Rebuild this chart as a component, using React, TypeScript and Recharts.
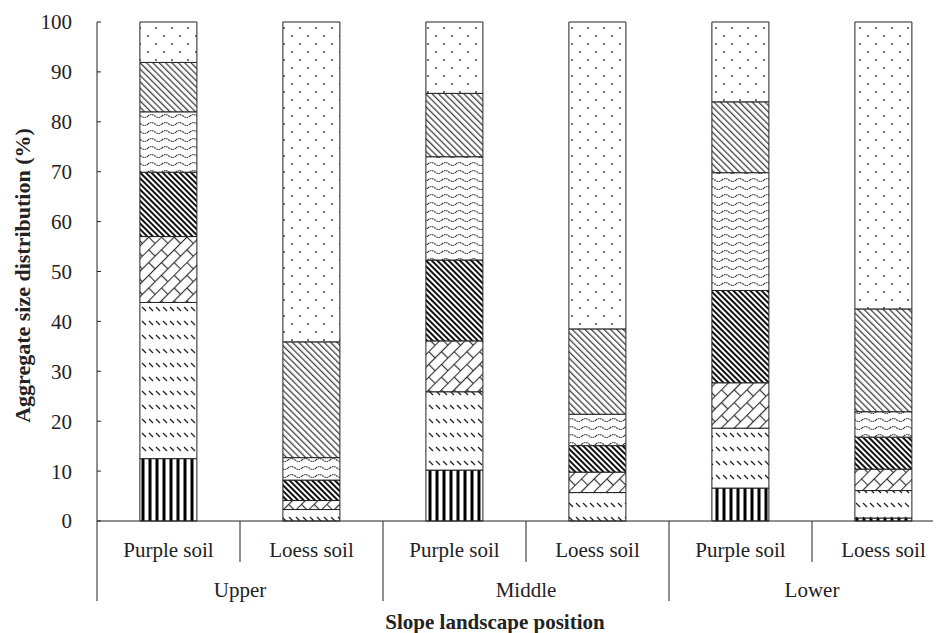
import React from 'react';
import { BarChart, Bar, XAxis, YAxis, Label } from 'recharts';

const categories = ['Purple soil', 'Loess soil', 'Purple soil', 'Loess soil', 'Purple soil', 'Loess soil'];
const groups = ['Upper', 'Middle', 'Lower'];
const yTicks = [0, 10, 20, 30, 40, 50, 60, 70, 80, 90, 100];

// segment values (%), bottom to top
const seg1 = [12.5, 0, 10.2, 0, 6.6, 0.6];
const seg2 = [31.3, 2.3, 15.7, 5.7, 12.0, 5.5];
const seg3 = [13.2, 1.8, 10.2, 4.1, 9.1, 4.3];
const seg4 = [12.9, 4.1, 16.2, 5.3, 18.5, 6.4];
const seg5 = [12.1, 4.5, 20.7, 6.3, 23.6, 5.1];
const seg6 = [9.9, 23.2, 12.7, 17.1, 14.2, 20.6];
const seg7 = [8.1, 64.1, 14.3, 61.5, 16.0, 57.5];

const seriesKeys = ['seg1', 'seg2', 'seg3', 'seg4', 'seg5', 'seg6', 'seg7'];
const seriesArrays = [seg1, seg2, seg3, seg4, seg5, seg6, seg7];

const data = categories.map((c, i) => {
  const row: any = { soil: c, idx: i };
  seriesKeys.forEach((k, j) => (row[k] = seriesArrays[j][i]));
  return row;
});

const FONT =
  '"Times New Roman", Times, "Liberation Serif", "Nimbus Roman", "Noto Serif", "DejaVu Serif", serif';
const INK = '#222';

const SoilTick = (props: any) => {
  const { x, y, payload, index } = props;
  const half = payload && payload.offset ? payload.offset : 71.5;
  const i = index ?? 0;
  const isSecond = i % 2 === 1;
  return (
    <g>
      <text x={x} y={y + 29} dy="0.35em" textAnchor="middle" style={{ fontFamily: FONT }} fontSize={21} fill={INK}>
        {payload.value}
      </text>
      {i === 0 && <line x1={x - half} y1={y} x2={x - half} y2={y + 80} stroke={INK} strokeWidth={1} />}
      <line x1={x + half} y1={y} x2={x + half} y2={y + (isSecond ? 80 : 41)} stroke={INK} strokeWidth={1} />
      {isSecond && (
        <text x={x - half} y={y + 69} dy="0.35em" textAnchor="middle" style={{ fontFamily: FONT }} fontSize={21} fill={INK}>
          {groups[(i - 1) / 2]}
        </text>
      )}
    </g>
  );
};

const fills = ['url(#pStripe)', 'url(#pDash)', 'url(#pBrick)', 'url(#pDark)', 'url(#pWave)', 'url(#pDiag)', 'url(#pDots)'];

export default function App() {
  return (
    <div style={{ width: 933, height: 625, overflow: 'hidden', fontFamily: FONT }}>
      <BarChart
        width={960}
        height={625}
        data={data}
        margin={{ top: 14, right: 13, bottom: 0, left: 0 }}
        barCategoryGap="30%"
        style={{ fontFamily: FONT }}
      >
        <defs>
          <pattern id="pStripe" patternUnits="userSpaceOnUse" width={7} height={7}>
            <rect x={0} y={0} width={7} height={7} fill="#fff" />
            <rect x={0.5} y={0} width={3} height={7} fill="#000" />
          </pattern>
          <pattern id="pDash" patternUnits="userSpaceOnUse" width={7} height={14}>
            <rect x={0} y={0} width={7} height={14} fill="#fff" />
            <line x1={1} y1={5} x2={5} y2={9} stroke="#222" strokeWidth={1.2} />
          </pattern>
          <pattern id="pBrick" patternUnits="userSpaceOnUse" width={18} height={18} patternTransform="rotate(-45)">
            <rect x={0} y={0} width={18} height={18} fill="#fff" />
            <line x1={0} y1={0.5} x2={18} y2={0.5} stroke="#333" strokeWidth={1.2} />
            <line x1={0} y1={9.5} x2={18} y2={9.5} stroke="#333" strokeWidth={1.2} />
            <line x1={0.5} y1={0} x2={0.5} y2={9.5} stroke="#333" strokeWidth={1.2} />
            <line x1={9.5} y1={9.5} x2={9.5} y2={18} stroke="#333" strokeWidth={1.2} />
          </pattern>
          <pattern id="pDark" patternUnits="userSpaceOnUse" width={4} height={4} patternTransform="rotate(-45)">
            <rect x={0} y={0} width={4} height={4} fill="#fff" />
            <rect x={0} y={0} width={2} height={4} fill="#111" />
          </pattern>
          <pattern id="pWave" patternUnits="userSpaceOnUse" width={14} height={8}>
            <rect x={0} y={0} width={14} height={8} fill="#fff" />
            <path d="M0 4 Q3.5 1 7 4 T14 4" fill="none" stroke="#333" strokeWidth={1.2} strokeDasharray="1.5 0.8" />
          </pattern>
          <pattern id="pDiag" patternUnits="userSpaceOnUse" width={4.5} height={4.5} patternTransform="rotate(-45)">
            <rect x={0} y={0} width={4.5} height={4.5} fill="#fff" />
            <rect x={0} y={0} width={1.3} height={4.5} fill="#444" />
          </pattern>
          <pattern id="pDots" patternUnits="userSpaceOnUse" width={16} height={16}>
            <rect x={0} y={0} width={16} height={16} fill="#fff" />
            <circle cx={4} cy={4} r={0.9} fill="#333" />
            <circle cx={12} cy={12} r={0.9} fill="#333" />
          </pattern>
        </defs>
        <XAxis
          dataKey="soil"
          interval={0}
          height={112}
          tickLine={false}
          tickSize={0}
          tickMargin={0}
          axisLine={{ stroke: INK, strokeWidth: 1 }}
          tick={<SoilTick />}
        >
          <Label
            content={(p: any) => {
              const vb = p.viewBox || { x: 89, y: 513, width: 858 };
              return (
                <text
                  x={vb.x + 398}
                  y={vb.y + 101}
                  dy="0.35em"
                  textAnchor="middle"
                  style={{ fontFamily: FONT }}
                  fontSize={21}
                  fontWeight="bold"
                  fill={INK}
                >
                  Slope landscape  position
                </text>
              );
            }}
          />
        </XAxis>
        <YAxis
          type="number"
          domain={[0, 100]}
          ticks={yTicks}
          interval={0}
          width={89}
          tickSize={-4}
          tickMargin={29}
          tickLine={{ stroke: INK }}
          axisLine={{ stroke: INK, strokeWidth: 1 }}
          tick={{ fontSize: 21, fill: INK, style: { fontFamily: FONT } }}
        >
          <Label
            content={(p: any) => {
              const vb = p.viewBox || { x: 0, y: 14, width: 89, height: 499 };
              const cx = vb.x + 14;
              const cy = vb.y + vb.height / 2 + 4;
              return (
                <text
                  x={cx}
                  y={cy}
                  dy="0.35em"
                  textAnchor="middle"
                  transform={`rotate(-90, ${cx}, ${cy})`}
                  style={{ fontFamily: FONT }}
                  fontSize={22}
                  fontWeight="bold"
                  fill={INK}
                >
                  Aggregate size distribution  (%)
                </text>
              );
            }}
          />
        </YAxis>
        {seriesKeys.map((k, j) => (
          <Bar
            key={k}
            dataKey={k}
            stackId="a"
            fill={fills[j]}
            stroke={INK}
            strokeWidth={1}
            isAnimationActive={false}
          />
        ))}
      </BarChart>
    </div>
  );
}
